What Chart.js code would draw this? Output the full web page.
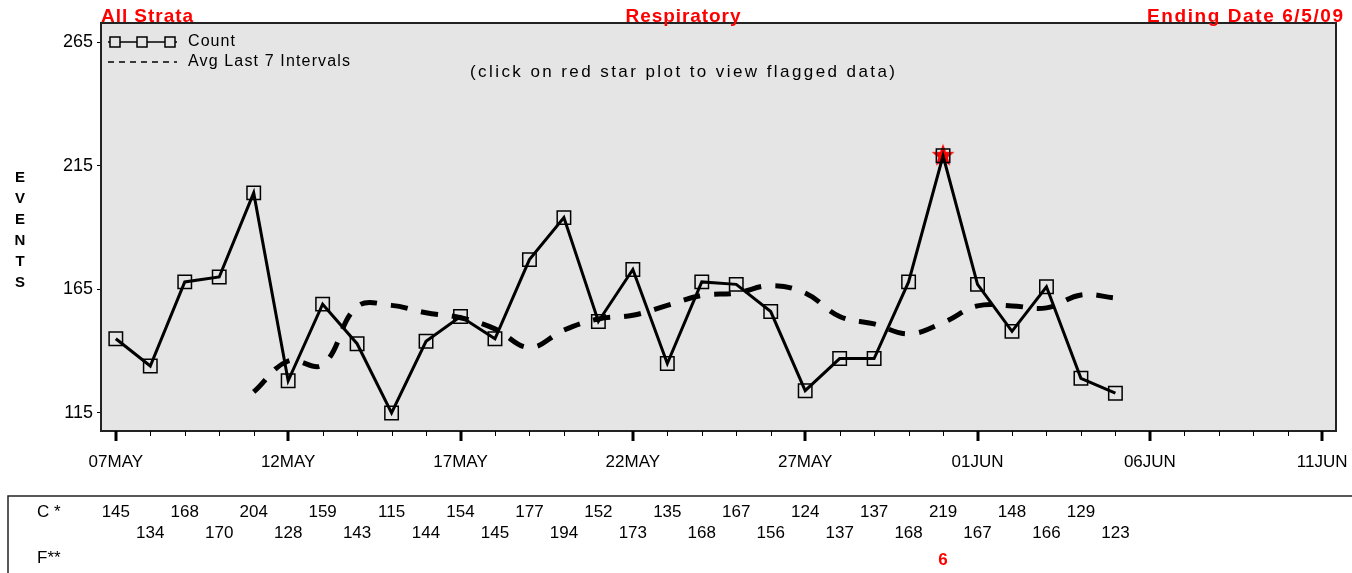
<!DOCTYPE html>
<html>
<head>
<meta charset="utf-8">
<script src="https://cdn.jsdelivr.net/npm/chart.js@4"></script>
<style>
  body { margin: 0; background: #fff; }
  canvas { display: block; }
</style>
</head>
<body>
<canvas id="chart" width="1352" height="573"></canvas>
<script>
// Daily counts, 07MAY .. 05JUN
const counts = [145, 134, 168, 170, 204, 128, 159, 143, 115, 144, 154, 145, 177, 194, 152,
                173, 135, 168, 167, 156, 124, 137, 137, 168, 219, 167, 148, 166, 129, 123];
// Avg of last 7 intervals, starts at 11MAY (day index 4)
const avgStartDay = 4;
const avgLast7 = [123.5, 136, 134.5, 158, 158.5, 155.5, 153.5, 149, 141.5, 148.5, 153, 154.5, 158.5,
                  162.5, 163.5, 166.5, 163.5, 154, 151, 147, 151.5, 158.3, 158.3, 157.5, 162.7, 161.5];
// Flagged days (red star) and their flag codes
const flagDays = [24];
const flagCodes = ['6'];
// Axis ticks
const xTickLabels = ['07MAY', '12MAY', '17MAY', '22MAY', '27MAY', '01JUN', '06JUN', '11JUN'];
const yTicks = [115, 165, 215, 265];

const FONT = 'Arial, "Liberation Sans", Helvetica, sans-serif';

// red filled star used as point style for flagged days
function makeStar(r) {
    const c = document.createElement('canvas');
    c.width = c.height = r * 2 + 2;
    const g = c.getContext('2d');
    g.fillStyle = '#ff0000';
    g.beginPath();
    for (let k = 0; k < 10; k++) {
        const rad = k % 2 === 0 ? r : r * 0.42;
        const a = -Math.PI / 2 + k * Math.PI / 5;
        const px = r + 1 + rad * Math.cos(a);
        const py = r + 1 + rad * Math.sin(a);
        if (k === 0) g.moveTo(px, py); else g.lineTo(px, py);
    }
    g.closePath();
    g.fill();
    return c;
}

// draw text stretched to a target width (the original uses a wide bitmap font)
function fitText(ctx, text, x, y, width, align) {
    ctx.letterSpacing = '0px';
    const w = ctx.measureText(text).width;
    const sp = Math.max(0, (width - w) / Math.max(1, text.length - 1));
    ctx.letterSpacing = sp + 'px';
    let left = x;
    if (align === 'center') left = x - width / 2;
    if (align === 'right') left = x - width;
    ctx.textAlign = 'left';
    ctx.fillText(text, left, y);
    ctx.letterSpacing = '0px';
}

const decorPlugin = {
    id: 'decor',
    beforeDraw(chart) {
        const { ctx, chartArea: a } = chart;
        ctx.save();
        ctx.fillStyle = '#e5e5e5';
        ctx.fillRect(a.left, a.top, a.right - a.left, a.bottom - a.top);
        ctx.restore();
    },
    afterDraw(chart) {
        const { ctx, chartArea: a } = chart;
        const x = chart.scales.x;
        ctx.save();

        // plot frame
        ctx.strokeStyle = '#222';
        ctx.lineWidth = 2;
        ctx.strokeRect(a.left, a.top, a.right - a.left, a.bottom - a.top);

        // x tick marks, major every 5 days
        ctx.strokeStyle = '#000';
        for (let i = 0; i <= 35; i++) {
            const px = Math.round(x.getPixelForValue(i));
            const major = i % 5 === 0;
            ctx.lineWidth = major ? 3 : 1;
            ctx.beginPath();
            ctx.moveTo(px + (major ? 0 : 0.5), a.bottom);
            ctx.lineTo(px + (major ? 0 : 0.5), a.bottom + (major ? 10 : 5));
            ctx.stroke();
        }

        // titles
        ctx.fillStyle = '#ff0000';
        ctx.textBaseline = 'alphabetic';
        ctx.font = 'bold 19px ' + FONT;
        fitText(ctx, 'All Strata', 101, 22, 92, 'left');
        fitText(ctx, 'Respiratory', 683, 22, 115, 'center');
        fitText(ctx, 'Ending Date 6/5/09', 1343, 22, 196, 'right');

        // y axis title, stacked letters
        ctx.fillStyle = '#000';
        ctx.font = 'bold 15px ' + FONT;
        ctx.textAlign = 'center';
        ctx.textBaseline = 'middle';
        'EVENTS'.split('').forEach((ch, k) => ctx.fillText(ch, 20, 178 + k * 21));

        // legend
        ctx.lineWidth = 1.5;
        ctx.strokeStyle = '#000';
        ctx.beginPath();
        ctx.moveTo(108, 42);
        ctx.lineTo(177, 42);
        ctx.stroke();
        [115, 142, 170].forEach((cx) => {
            ctx.fillStyle = '#e5e5e5';
            ctx.fillRect(cx - 5, 37, 10, 10);
            ctx.strokeRect(cx - 5, 37, 10, 10);
        });
        ctx.setLineDash([6, 5]);
        ctx.beginPath();
        ctx.moveTo(108, 62);
        ctx.lineTo(177, 62);
        ctx.stroke();
        ctx.setLineDash([]);
        ctx.fillStyle = '#000';
        ctx.font = '16px ' + FONT;
        ctx.textBaseline = 'middle';
        fitText(ctx, 'Count', 188, 42, 47, 'left');
        fitText(ctx, 'Avg Last 7 Intervals', 188, 62, 162, 'left');

        // note
        ctx.font = '17px ' + FONT;
        fitText(ctx, '(click on red star plot to view flagged data)', 470, 72, 425, 'left');

        // data table
        ctx.strokeStyle = '#222';
        ctx.lineWidth = 1.5;
        ctx.beginPath();
        ctx.moveTo(1352, 496);
        ctx.lineTo(8, 496);
        ctx.lineTo(8, 573);
        ctx.stroke();
        ctx.font = '17px ' + FONT;
        ctx.textBaseline = 'middle';
        ctx.textAlign = 'left';
        ctx.fillText('C *', 37, 512);
        ctx.fillText('F**', 37, 558);
        ctx.textAlign = 'center';
        counts.forEach((v, i) => {
            ctx.fillText(String(v), x.getPixelForValue(i), i % 2 === 0 ? 512 : 533);
        });
        ctx.fillStyle = '#ff0000';
        ctx.font = 'bold 17px ' + FONT;
        flagDays.forEach((d, k) => ctx.fillText(flagCodes[k], x.getPixelForValue(d), 560));

        ctx.restore();
    }
};

new Chart(document.getElementById('chart'), {
    type: 'line',
    data: {
        datasets: [
            {
                label: 'Count',
                data: counts.map((v, i) => ({ x: i, y: v })),
                borderColor: '#000',
                borderWidth: 3,
                tension: 0,
                pointStyle: 'rect',
                pointRadius: 9.5,
                pointBorderWidth: 1.5,
                pointBorderColor: '#000',
                pointBackgroundColor: 'rgba(0,0,0,0)',
                order: 1
            },
            {
                label: 'Avg Last 7 Intervals',
                data: avgLast7.map((v, i) => ({ x: i + avgStartDay, y: v })),
                borderColor: '#000',
                borderWidth: 5,
                borderDash: [17, 14],
                tension: 0.4,
                pointRadius: 0,
                order: 2
            },
            {
                label: 'Flag',
                data: flagDays.map((d) => ({ x: d, y: counts[d] })),
                showLine: false,
                pointStyle: makeStar(12),
                pointRadius: 12,
                order: 3
            }
        ]
    },
    options: {
        responsive: false,
        animation: false,
        devicePixelRatio: 1,
        events: [],
        layout: { padding: { left: 0, top: 23, right: 16, bottom: 0 } },
        plugins: {
            legend: { display: false },
            title: { display: false },
            tooltip: { enabled: false }
        },
        scales: {
            x: {
                type: 'linear',
                min: -0.43,
                max: 35.4,
                afterBuildTicks: (scale) => {
                    scale.ticks = Array.from({ length: 36 }, (_, i) => ({ value: i }));
                },
                afterFit: (scale) => {
                    scale.height = 142;
                    scale.paddingLeft = 0;
                    scale.paddingRight = 0;
                },
                border: { display: false },
                grid: { display: false },
                ticks: {
                    autoSkip: false,
                    maxRotation: 0,
                    padding: 13,
                    color: '#000',
                    font: { family: FONT, size: 17 },
                    callback: (v) => (v % 5 === 0 ? xTickLabels[v / 5] : '')
                }
            },
            y: {
                min: 107.7,
                max: 272.7,
                afterBuildTicks: (scale) => {
                    scale.ticks = yTicks.map((v) => ({ value: v }));
                },
                afterFit: (scale) => { scale.width = 101; },
                border: { display: false },
                grid: {
                    drawOnChartArea: false,
                    drawTicks: true,
                    tickLength: 4,
                    tickColor: '#000',
                    tickWidth: 1
                },
                ticks: {
                    padding: 4,
                    color: '#000',
                    font: { family: FONT, size: 18 }
                }
            }
        }
    },
    plugins: [decorPlugin]
});
</script>
</body>
</html>
